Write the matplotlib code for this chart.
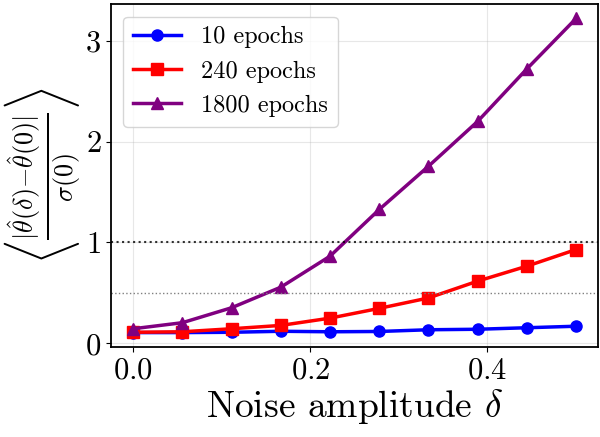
import matplotlib
matplotlib.use("Agg")
import matplotlib.pyplot as plt
import numpy as np

plt.rcParams['font.family'] = 'serif'
plt.rcParams['font.serif'] = ['cmr10']
plt.rcParams['mathtext.fontset'] = 'cm'
plt.rcParams['axes.formatter.use_mathtext'] = True
plt.rcParams['axes.unicode_minus'] = False

delta = [0.0, 0.0556, 0.1111, 0.1667, 0.2222, 0.2778, 0.3333, 0.3889, 0.4444, 0.5]
err_10 = [0.107, 0.107, 0.11, 0.12, 0.115, 0.118, 0.135, 0.14, 0.155, 0.17]
err_240 = [0.11, 0.115, 0.145, 0.178, 0.25, 0.347, 0.45, 0.617, 0.765, 0.93]
err_1800 = [0.145, 0.205, 0.353, 0.557, 0.864, 1.327, 1.755, 2.2, 2.72, 3.22]

fig, ax = plt.subplots(figsize=(6, 4.37), dpi=100)

ax.plot(delta, err_10, '-o', color='blue', lw=2.5, ms=8, label='10 epochs')
ax.plot(delta, err_240, '-s', color='red', lw=2.5, ms=8, label='240 epochs')
ax.plot(delta, err_1800, '-^', color='purple', lw=2.5, ms=8, label='1800 epochs')

ax.axhline(1.0, color='black', ls=':', lw=1.5, alpha=0.8)
ax.axhline(0.5, color='gray', ls=':', lw=1.0)

ax.set_ylim(-0.04, 3.36)
ax.set_xticks([0.0, 0.2, 0.4])
ax.set_yticks([0, 1, 2, 3])
ax.tick_params(labelsize=22)
ax.grid(True, alpha=0.3)
for s in ax.spines.values():
    s.set_linewidth(1.3)

ax.set_xlabel(r'Noise amplitude $\delta$', fontsize=27, labelpad=2)
ax.set_ylabel(r'$\left\langle \frac{|\hat{\theta}(\delta){-}\hat{\theta}(0)|}{\sigma(0)} \right\rangle$', fontsize=27, labelpad=2)
ax.legend(loc='upper left', fontsize=17.5)

plt.subplots_adjust(left=0.185, right=0.997, top=0.99, bottom=0.205)
plt.savefig("out.png")
